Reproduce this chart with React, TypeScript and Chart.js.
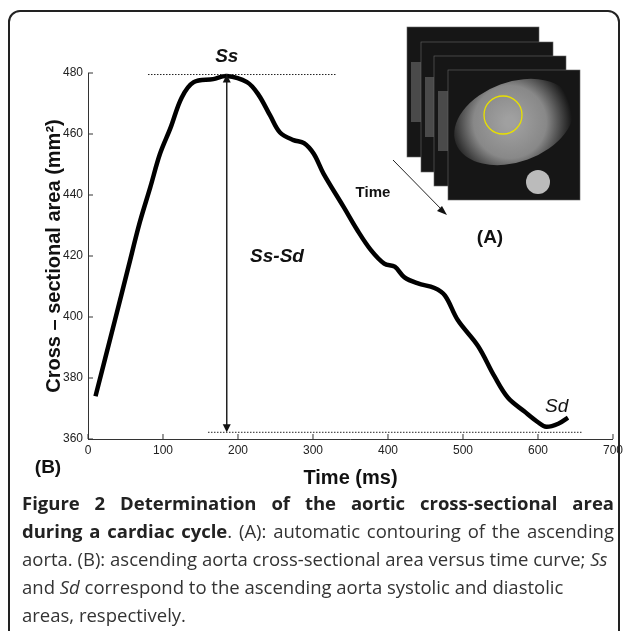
import { useEffect, useRef } from "react";
import { Chart, registerables } from "chart.js";

Chart.register(...registerables);

const timeMs = [10, 36, 54, 69, 83, 96, 110, 125, 141, 167, 185, 212, 227, 243, 256, 274, 288, 301, 314, 341, 359, 377, 395, 409, 422, 440, 462, 476, 493, 520, 542, 560, 582, 600, 611, 627, 640];
const area = [374, 399, 416.5, 431, 442.5, 453.5, 462, 472, 477, 478, 479, 477, 473, 466, 460.5, 458, 457, 453.5, 447, 436, 428.5, 422, 417.5, 416.5, 413, 411, 409.5, 407, 399, 390.5, 380.5, 373.5, 369, 365.5, 364, 365, 367];
const xTicks = [0, 100, 200, 300, 400, 500, 600, 700];
const yTicks = [360, 380, 400, 420, 440, 460, 480];
const ssValue = 479.5;
const sdValue = 362.2;
const peakTime = 185;

const annotate = {
  id: "annotate",
  afterDatasetsDraw(chart: any) {
    const ctx = chart.ctx;
    const x = chart.scales.x;
    const y = chart.scales.y;
    const { left, bottom } = chart.chartArea;
    ctx.save();
    // inward ticks
    ctx.strokeStyle = "#333";
    ctx.lineWidth = 1;
    xTicks.forEach((t) => {
      const px = x.getPixelForValue(t);
      ctx.beginPath(); ctx.moveTo(px, bottom); ctx.lineTo(px, bottom - 5); ctx.stroke();
    });
    yTicks.forEach((t) => {
      const py = y.getPixelForValue(t);
      ctx.beginPath(); ctx.moveTo(left, py); ctx.lineTo(left + 5, py); ctx.stroke();
    });
    // dotted reference lines
    ctx.setLineDash([1.5, 1.5]);
    ctx.strokeStyle = "#222";
    ctx.beginPath();
    ctx.moveTo(x.getPixelForValue(80), y.getPixelForValue(ssValue));
    ctx.lineTo(x.getPixelForValue(330), y.getPixelForValue(ssValue));
    ctx.moveTo(x.getPixelForValue(160), y.getPixelForValue(sdValue));
    ctx.lineTo(x.getPixelForValue(660), y.getPixelForValue(sdValue));
    ctx.stroke();
    ctx.setLineDash([]);
    // double arrow
    const ax = x.getPixelForValue(peakTime);
    const top = y.getPixelForValue(ssValue);
    const bot = y.getPixelForValue(sdValue);
    ctx.lineWidth = 1.5;
    ctx.beginPath(); ctx.moveTo(ax, top + 6); ctx.lineTo(ax, bot - 6); ctx.stroke();
    ctx.fillStyle = "#111";
    ctx.beginPath(); ctx.moveTo(ax, top); ctx.lineTo(ax - 4, top + 8); ctx.lineTo(ax + 4, top + 8); ctx.fill();
    ctx.beginPath(); ctx.moveTo(ax, bot); ctx.lineTo(ax - 4, bot - 8); ctx.lineTo(ax + 4, bot - 8); ctx.fill();
    // MRI stack
    const frames = [[407, 27], [421, 42], [434, 56], [448, 70]];
    frames.forEach(([fx, fy], i) => {
      ctx.fillStyle = "#161616";
      ctx.fillRect(fx, fy, 132, 130);
      ctx.strokeStyle = "#666";
      ctx.lineWidth = 0.6;
      ctx.strokeRect(fx, fy, 132, 130);
      if (i === frames.length - 1) {
        const g = ctx.createRadialGradient(fx + 62, fy + 52, 5, fx + 62, fy + 52, 62);
        g.addColorStop(0, "#a0a0a0");
        g.addColorStop(0.55, "#888");
        g.addColorStop(1, "#161616");
        ctx.fillStyle = g;
        ctx.beginPath(); ctx.ellipse(fx + 66, fy + 52, 62, 40, -0.35, 0, Math.PI * 2); ctx.fill();
        ctx.fillStyle = "#bbb";
        ctx.beginPath(); ctx.arc(fx + 90, fy + 112, 12, 0, Math.PI * 2); ctx.fill();
        ctx.strokeStyle = "#e8e000";
        ctx.lineWidth = 1.3;
        ctx.beginPath(); ctx.arc(fx + 55, fy + 45, 19, 0, Math.PI * 2); ctx.stroke();
      } else {
        ctx.fillStyle = "#4a4a4a";
        ctx.fillRect(fx + 4, fy + 35, 10, 60);
      }
    });
    // time arrow
    ctx.strokeStyle = "#222";
    ctx.lineWidth = 1;
    ctx.beginPath(); ctx.moveTo(393, 160); ctx.lineTo(444, 212); ctx.stroke();
    ctx.fillStyle = "#111";
    ctx.beginPath(); ctx.moveTo(447, 215); ctx.lineTo(437, 211); ctx.lineTo(442, 206); ctx.fill();
    // labels
    ctx.fillStyle = "#111";
    ctx.textAlign = "center";
    ctx.textBaseline = "middle";
    const text = (s: string, font: string, tx: number, ty: number) => {
      ctx.font = font;
      ctx.fillText(s, x.getPixelForValue(tx), y.getPixelForValue(ty));
    };
    text("Ss", "italic bold 19px 'Liberation Sans', Arial", peakTime, 485.2);
    text("Ss-Sd", "italic bold 19px 'Liberation Sans', Arial", 252, 419.7);
    text("Time", "bold 15px 'Liberation Sans', Arial", 380, 440.7);
    text("(A)", "bold 19px 'Liberation Sans', Arial", 536, 426);
    text("Sd", "italic 19px 'Liberation Sans', Arial", 625, 370.5);
    ctx.font = "bold 19px 'Liberation Sans', Arial";
    ctx.fillText("(B)", 48, 468);
    ctx.restore();
  },
};

function AreaChart() {
  const canvasRef = useRef<HTMLCanvasElement>(null);
  const chartRef = useRef<Chart | null>(null);

  useEffect(() => {
    if (!canvasRef.current) return;
    chartRef.current?.destroy();
    const tickFont = { family: "'Liberation Sans', Arial", size: 12 };
    const titleFont = { family: "'Liberation Sans', Arial", size: 20, weight: "bold" as const };

    chartRef.current = new Chart(canvasRef.current, {
      type: "line",
      data: {
        datasets: [{
          data: timeMs.map((t, i) => ({ x: t, y: area[i] })),
          borderColor: "#000",
          borderWidth: 4.5,
          pointRadius: 0,
          tension: 0.35,
        }],
      },
      options: {
        animation: false,
        responsive: false,
        layout: { padding: { left: 30, right: 14, top: 73, bottom: 0 } },
        plugins: { legend: { display: false }, tooltip: { enabled: false } },
        scales: {
          x: {
            type: "linear", min: 0, max: 700,
            afterBuildTicks: (s: any) => { s.ticks = xTicks.map((v) => ({ value: v })); },
            afterFit: (s: any) => { s.height = 51; },
            grid: { display: false, drawTicks: false },
            border: { display: true, color: "#333", width: 1 },
            ticks: { font: tickFont, color: "#222", padding: 4 },
            title: { display: true, text: "Time (ms)", font: titleFont, color: "#111", padding: { top: 0, bottom: 0 } },
          },
          y: {
            type: "linear", min: 360, max: 480,
            afterBuildTicks: (s: any) => { s.ticks = yTicks.map((v) => ({ value: v })); },
            afterFit: (s: any) => { s.width = 58; },
            grid: { display: false, drawTicks: false },
            border: { display: true, color: "#333", width: 1 },
            ticks: { font: tickFont, color: "#222", padding: 5 },
            title: { display: true, text: "Cross – sectional area (mm²)", font: titleFont, color: "#111", padding: { top: 12, bottom: 0 } },
          },
        },
      },
      plugins: [annotate],
    });

    return () => { chartRef.current?.destroy(); };
  }, []);

  return <canvas ref={canvasRef} width={627} height={490} style={{ position: "absolute", left: 0, top: 0 }} />;
}

const line = (justify: boolean) => ({ whiteSpace: "nowrap" as const, textAlign: "justify" as const, textAlignLast: (justify ? "justify" : "left") as any });

export default function App() {
  return (
    <div style={{ position: "absolute", left: 0, top: 0, width: 627, height: 631, background: "#fff", overflow: "hidden" }}>
      <div style={{ position: "absolute", left: 8, top: 10, width: 608, height: 640, border: "2px solid #222", borderTopLeftRadius: 12, borderTopRightRadius: 12 }} />
      <AreaChart />
      <div style={{ position: "absolute", left: 22, top: 489, width: 592, fontFamily: "'Open Sans', 'Noto Sans', sans-serif", fontSize: 18.5, lineHeight: "28px", color: "#333" }}>
        <div style={line(true)}><b style={{ color: "#222" }}>Figure 2 Determination of the aortic cross-sectional area</b></div>
        <div style={line(true)}><b style={{ color: "#222" }}>during a cardiac cycle</b>. (A): automatic contouring of the ascending</div>
        <div style={line(false)}>aorta. (B): ascending aorta cross-sectional area versus time curve; <i>Ss</i></div>
        <div style={line(false)}>and <i>Sd</i> correspond to the ascending aorta systolic and diastolic</div>
        <div style={line(false)}>areas, respectively.</div>
      </div>
    </div>
  );
}
